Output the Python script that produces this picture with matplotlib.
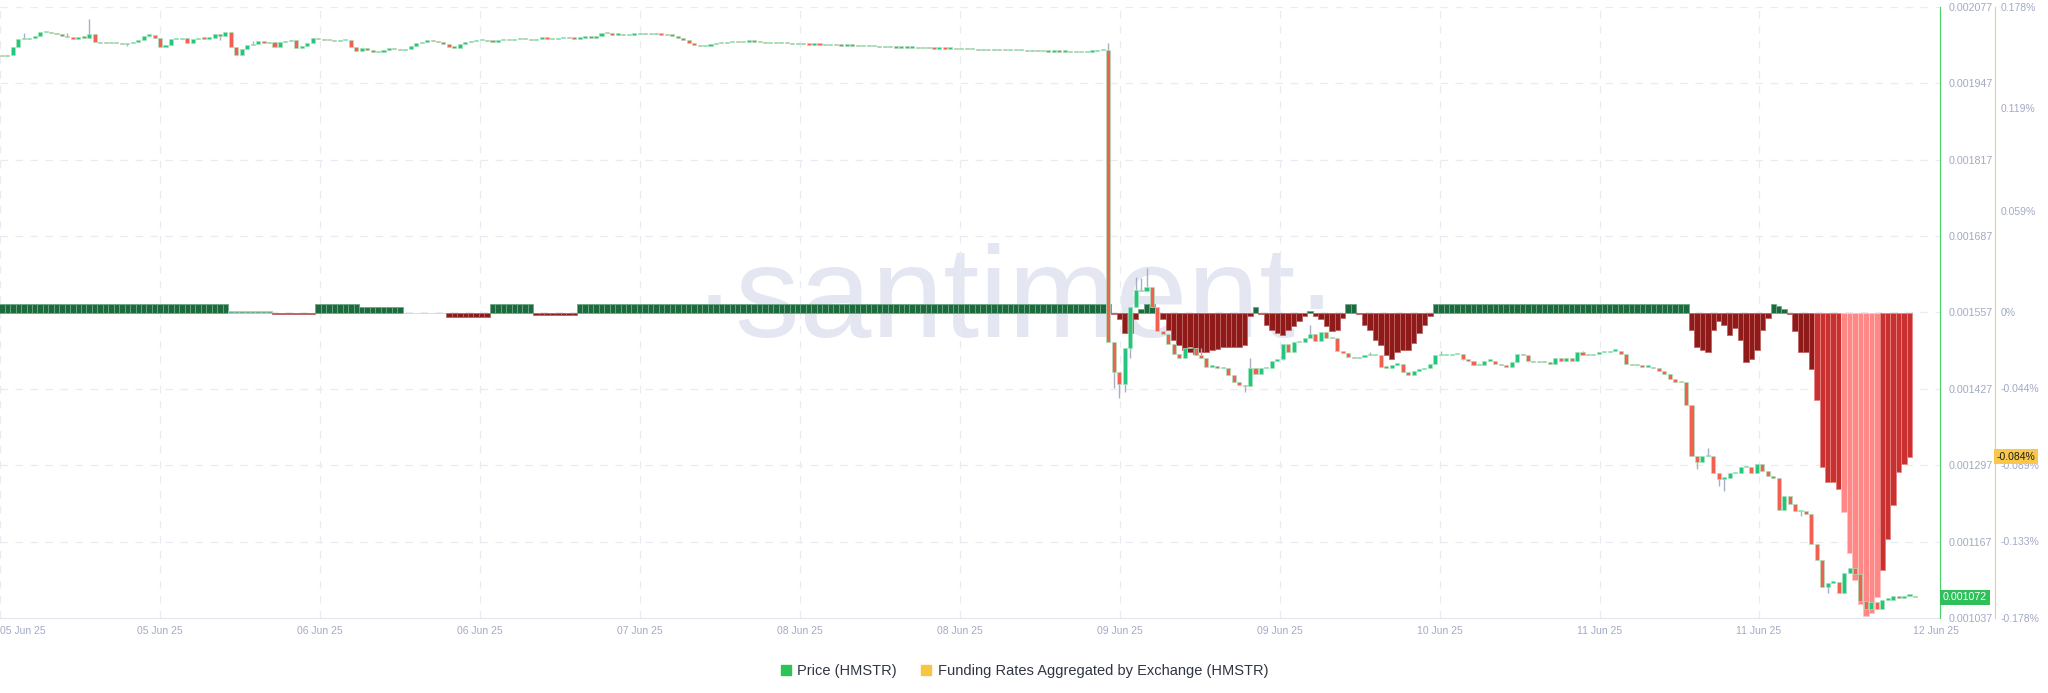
import numpy as np
import matplotlib
matplotlib.use('Agg')
import matplotlib.pyplot as plt
from matplotlib.lines import Line2D
from matplotlib.transforms import blended_transform_factory

plt.rcParams['font.family'] = ['Liberation Sans', 'DejaVu Sans']

# HMSTR 30-minute candles, close price in units of 1e-6
closes = [
    1993, 1995, 2009, 2022, 2022, 2024, 2028, 2034, 2034, 2032,
    2031, 2028, 2026, 2022, 2026, 2025, 2031, 2017, 2016, 2015,
    2016, 2015, 2014, 2016, 2017, 2021, 2028, 2029, 2024, 2009,
    2012, 2022, 2022, 2024, 2016, 2022, 2024, 2023, 2024, 2031,
    2028, 2034, 2009, 1995, 2005, 2012, 2014, 2019, 2016, 2017,
    2009, 2017, 2019, 2021, 2008, 2010, 2016, 2024, 2022, 2021,
    2020, 2019, 2020, 2021, 2009, 2002, 2007, 2004, 2000, 2000,
    2004, 2007, 2005, 2004,
    2006, 2010, 2015, 2018, 2020, 2019, 2017, 2014, 2009, 2008,
    2014, 2017, 2019, 2020, 2021,
    2019, 2018, 2020, 2021, 2020, 2022, 2023, 2022, 2021, 2023,
    2024, 2023, 2022, 2024, 2025, 2024, 2023, 2025, 2026, 2025, 2027,
    2033, 2032, 2030, 2031, 2029, 2030, 2031, 2032, 2031, 2033,
    2031, 2030, 2029, 2028, 2024, 2020, 2015, 2012,
    2010, 2011, 2014, 2016, 2015, 2017, 2018, 2017, 2018, 2019,
    2018, 2017, 2016,
    2016, 2015, 2016, 2015, 2014, 2015, 2014, 2013, 2014, 2013,
    2012, 2013, 2012, 2011, 2012, 2011, 2010, 2011, 2010, 2010,
    2009, 2010, 2009, 2008, 2009, 2008, 2008, 2007, 2008, 2007,
    2006, 2007, 2006, 2006, 2005, 2006, 2005, 2005, 2004, 2005,
    2004, 2005, 2004, 2003, 2004, 2003, 2003, 2002, 2003, 2002,
    2002, 2001, 2002, 2001, 2001, 2000, 2001, 2000, 2001, 2002,
    2004, 2004,
    1506,
    1455, 1436, 1496, 1567, 1596, 1593, 1600, 1566, 1526, 1521,
    1504, 1487, 1480, 1496, 1497, 1484, 1480, 1465, 1466, 1462,
    1463, 1451, 1438, 1433, 1432, 1463, 1453, 1462, 1463, 1475,
    1477, 1504, 1489, 1506, 1506, 1514, 1521, 1509, 1523, 1514,
    1513, 1491, 1488, 1482, 1479, 1482, 1485, 1484, 1484, 1465,
    1463, 1468, 1470, 1455, 1451, 1458, 1460, 1462, 1470, 1485,
    1485, 1485, 1486, 1487, 1477, 1475, 1467, 1468, 1475, 1475,
    1470, 1467, 1465, 1472, 1487, 1485, 1475, 1473, 1475, 1472,
    1470, 1479, 1475, 1479, 1475, 1489, 1485, 1484, 1487, 1489,
    1489, 1492, 1492, 1487, 1470, 1467, 1467, 1465, 1465, 1462,
    1458, 1453, 1443, 1439, 1438, 1400, 1313, 1303, 1312, 1313,
    1283, 1274, 1276, 1283, 1284, 1294, 1294, 1284, 1299, 1288,
    1279, 1276, 1221, 1245, 1231, 1219, 1219, 1214, 1163, 1136,
    1090, 1097, 1098, 1080, 1114, 1122, 1112, 1066, 1052, 1064,
    1052, 1068, 1068, 1075, 1071, 1075, 1075, 1072,
]
first_open = 1994

# extra wick ends (index: price, units of 1e-6)
wick_high = {4: 2033, 12: 2033, 16: 2057, 46: 2019, 203: 2016, 208: 1618,
             209: 1615, 210: 1632, 220: 1497, 229: 1480, 240: 1535,
             251: 1489, 264: 1491, 290: 1491, 313: 1327, 333: 1156}
wick_low = {23: 2011, 40: 2021, 204: 1429, 205: 1412, 206: 1421, 207: 1480,
            228: 1421, 311: 1291, 315: 1262, 316: 1254, 330: 1211, 335: 1080}

# funding rate (%), 4h steps before the drop, then per 30 min
fund_steps = [0.005, 0.0006, -0.0008, 0.005, 0.003, -0.0002, -0.0025,
              0.005, -0.0016, 0.005]
fund_step_len = [42, 8, 8, 8, 8, 8, 8, 8, 8, 98]
fund_after = [
    -0.001, -0.004, -0.012, -0.012, -0.004, 0.002, 0.005, 0.005, -0.0005, -0.004,
    -0.010, -0.016, -0.019, -0.022, -0.023, -0.024, -0.023, -0.023, -0.022, -0.021,
    -0.020, -0.020, -0.020, -0.020, -0.019, -0.002, 0.003, -0.001, -0.007, -0.010,
    -0.012, -0.013, -0.010, -0.008, -0.005, -0.002, 0.001, -0.002, -0.004, -0.008,
    -0.011, -0.010, -0.003, 0.005, 0.005, -0.001, -0.007, -0.010, -0.016, -0.019,
    -0.025, -0.027, -0.023, -0.022, -0.022, -0.018, -0.012, -0.007, -0.002,
] + [0.005] * 47 + [
    -0.010, -0.020, -0.022, -0.023, -0.010, -0.005, -0.007, -0.013, -0.009, -0.016,
    -0.029, -0.027, -0.022, -0.010, -0.003, 0.005, 0.004, 0.002, -0.001, -0.011,
    -0.023, -0.023, -0.033, -0.051, -0.090, -0.099, -0.099, -0.103, -0.116, -0.140,
    -0.156, -0.170, -0.177, -0.175, -0.166, -0.150, -0.132, -0.112, -0.093, -0.088,
    -0.084,
]
light_red = list(range(74, 82)) + list(range(338, 345))
mid_red = list(range(333, 338)) + list(range(345, 351))
light_green = list(range(42, 50))

price_ticks = [0.002077, 0.001947, 0.001817, 0.001687, 0.001557,
               0.001427, 0.001297, 0.001167, 0.001037]
fund_ticks = [0.178, 0.119, 0.059, 0, -0.044, -0.089, -0.133, -0.178]
date_labels = ['05 Jun 25', '05 Jun 25', '06 Jun 25', '06 Jun 25', '07 Jun 25',
               '08 Jun 25', '08 Jun 25', '09 Jun 25', '09 Jun 25', '10 Jun 25',
               '11 Jun 25', '11 Jun 25', '12 Jun 25']

GREEN = '#22c67c'
RED = '#f4604f'
LABEL = '#a2aac4'
PMIN, PMAX = 0.001037, 0.002077

fig = plt.figure(figsize=(20.48, 6.93), dpi=100)
ax = fig.add_axes([0, 75 / 693, 1940 / 2048, 611 / 693])
ax2 = ax.twinx()
for a in (ax, ax2):
    a.patch.set_visible(False)
    for s in ('left', 'top'):
        a.spines[s].set_visible(False)
ax2.spines['bottom'].set_visible(False)
ax.spines['bottom'].set_color('#e3e6ef')

# x in candle units (30 min = 5.45 px)
step = 5.45
xmin = -2 / step
ax.set_xlim(xmin, xmin + 1940 / step)
tick_px = [0, 160, 320, 480, 640, 800, 960, 1120, 1280, 1440, 1600, 1759, 1936]
tick_pos = [xmin + p / step for p in tick_px]
ax.set_xticks(tick_pos)
ax.set_xticklabels(date_labels)
ax.tick_params(axis='x', length=0, pad=6, labelsize=7.5, labelcolor=LABEL)
ax.get_xticklabels()[0].set_ha('left')

# funding axis
ax.set_ylim(-0.178, 0.178)
ax.yaxis.tick_right()
ax.spines['right'].set_position(('axes', 1995 / 1940))
ax.spines['right'].set_color('#f7d060')
ax.set_yticks(fund_ticks)
ax.set_yticklabels([f'{t:g}%' if t != 0 else '0%' for t in fund_ticks])
ax.tick_params(axis='y', length=0, pad=4, labelsize=7.5, labelcolor=LABEL)

# price axis
ax2.set_ylim(PMIN, PMAX)
ax2.set_yticks(price_ticks)
ax2.set_yticklabels([f'{t:.6f}' for t in price_ticks])
ax2.spines['right'].set_color('#4ccf6d')
ax2.tick_params(axis='y', length=0, pad=6, labelsize=7.7, labelcolor=LABEL)

# grid, kept on the lower axes so the bars cover it
for t in price_ticks[:-1]:
    yf = (t - PMIN) / (PMAX - PMIN)
    ax.plot([0, 1], [yf, yf], transform=ax.transAxes, color='#e9ebf3',
            lw=0.9, dashes=(6, 6), zorder=0)
for p in tick_pos[:-1]:
    ax.axvline(p, color='#e9ebf3', lw=0.9, dashes=(6, 6), zorder=0)

# funding bars
fund = np.concatenate([np.repeat(fund_steps, fund_step_len), fund_after])
fx = np.arange(len(fund))
fcol = np.where(fund >= 0, '#1b6b3c', '#8f1a1a').astype(object)
fedge = np.where(fund >= 0, '#6fa688', '#c06464').astype(object)
fcol[light_red] = '#ff8785'
fedge[light_red] = '#ffc4c2'
fcol[mid_red] = '#c8312f'
fedge[mid_red] = '#e68482'
fcol[light_green] = '#6fae88'
fedge[light_green] = '#a8d3b8'
ax.bar(fx, fund, width=1.0, color=list(fcol), edgecolor=list(fedge),
       linewidth=0.6, zorder=2)

# candles
c = np.array(closes) * 1e-6
o = np.concatenate([[first_open * 1e-6], c[:-1]])
hi = np.maximum(o, c)
lo = np.minimum(o, c)
for k, v in wick_high.items():
    hi[k] = max(hi[k], v * 1e-6)
for k, v in wick_low.items():
    lo[k] = min(lo[k], v * 1e-6)
x = np.arange(len(c))
up = c >= o
ax2.vlines(x, lo, hi, color='#a7aec7', lw=1, zorder=2)
body = np.maximum(np.abs(c - o), 2.2e-6)
ax2.bar(x, body, bottom=np.minimum(o, c), width=0.74,
        color=np.where(up, GREEN, RED), edgecolor='#a6e4bd', linewidth=0.5,
        zorder=3)

# last value tags
tr2 = blended_transform_factory(ax2.transAxes, ax2.transData)
ax2.text(1.0 + 3 / 1940, c[-1], f'{c[-1]:.6f}', transform=tr2, ha='left',
         va='center', fontsize=7.7, color='white', zorder=5, clip_on=False,
         bbox=dict(boxstyle='square,pad=0.25', fc='#2fc05a', ec='none'))
tr1 = blended_transform_factory(ax.transAxes, ax.transData)
ax.text(1997 / 1940, fund[-1], f'{fund[-1]:.3f}%', transform=tr1, ha='left',
        va='center', fontsize=7.5, color='#1c1c1c', zorder=5, clip_on=False,
        bbox=dict(boxstyle='square,pad=0.25', fc='#f9c84a', ec='none'))

# watermark
fig.text(1016 / 2048, 1 - 337 / 693, '\u00b7santiment\u00b7', fontsize=93,
         family=['Liberation Sans Narrow', 'Liberation Sans'], color='#e4e7f2',
         ha='center', va='baseline', zorder=-1)

handles = [Line2D([], [], marker='s', ls='none', markersize=7.5, color='#2cc455'),
           Line2D([], [], marker='s', ls='none', markersize=7.5, color='#f7c443')]
fig.legend(handles, ['Price (HMSTR)', 'Funding Rates Aggregated by Exchange (HMSTR)'],
           loc='center', bbox_to_anchor=(0.5, 1 - 671 / 693), ncol=2,
           frameon=False, fontsize=10.5, handlelength=0.8, handletextpad=0.4,
           columnspacing=1.6, labelcolor='#2f3542')

fig.savefig('out.png', dpi=100, facecolor='white')
